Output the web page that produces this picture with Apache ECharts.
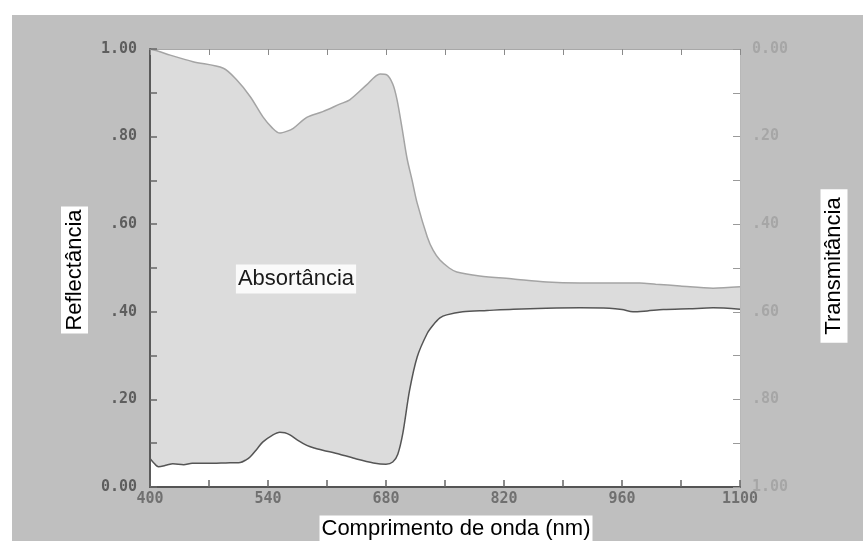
<!DOCTYPE html>
<html><head><meta charset="utf-8">
<script src="https://cdn.jsdelivr.net/npm/echarts@6/dist/echarts.min.js"></script>
<style>html,body{margin:0;padding:0;background:#fff}#c{width:863px;height:541px}</style>
</head><body><div id="c"></div>
<script>
// Upper curve: transmittance (right axis, inverted)
var wavelengthT = [400,410,424,451,487,503,519,534,545,554,562,570,586,605,625,637,657,673,681,688,693,699,705,711,717,729,736,744,755,764,791,831,871,910,950,981,1000,1029,1068,1100];
var transmittance = [0.000,0.005,0.014,0.029,0.044,0.071,0.109,0.155,0.180,0.192,0.188,0.181,0.156,0.143,0.126,0.116,0.082,0.057,0.059,0.080,0.115,0.180,0.250,0.300,0.352,0.429,0.460,0.482,0.500,0.509,0.518,0.525,0.532,0.534,0.534,0.534,0.537,0.541,0.546,0.543];
// Lower curve: reflectance (left axis)
var wavelengthR = [400,404,410,420,427,440,450,468,490,507,514,519,527,534,545,554,560,566,575,586,595,605,625,645,665,680,688,694,700,708,717,729,736,744,752,771,800,831,870,910,945,960,973,990,1009,1040,1068,1100];
var reflectance = [0.065,0.056,0.046,0.050,0.053,0.051,0.054,0.054,0.055,0.056,0.062,0.069,0.087,0.103,0.118,0.125,0.124,0.119,0.107,0.095,0.089,0.084,0.075,0.064,0.055,0.052,0.057,0.075,0.123,0.221,0.297,0.351,0.370,0.386,0.393,0.400,0.403,0.406,0.408,0.409,0.408,0.405,0.400,0.402,0.405,0.407,0.409,0.406];
var xLabels = [400,540,680,820,960,1100];

var chart = echarts.init(document.getElementById('c'), null, {renderer:'canvas'});
function pairs(xs, ys){ return xs.map(function(x,i){return [x, ys[i]];}); }
function yFmt(v){
  var k = Math.round(v*10);
  if (k % 2) return '';
  var s = (k/10).toFixed(2);
  return (k===0||k===10) ? s : s.slice(1);
}
var mono = 'DejaVu Sans Mono';
chart.setOption({
  backgroundColor:'#ffffff',
  animation:false,
  grid:{left:150, right:123, top:49, bottom:54, show:true, backgroundColor:'#ffffff', borderWidth:0},
  xAxis:[{
    type:'value', min:400, max:1100, interval:70, position:'bottom', z:10,
    axisLine:{show:true, lineStyle:{color:'#555555', width:2}},
    axisTick:{show:true, inside:true, length:7, lineStyle:{color:'#666666', width:1.5}},
    splitLine:{show:false},
    axisLabel:{margin:5, color:'#707070', fontFamily:mono, fontSize:15, fontWeight:'bold',
      formatter:function(v){ return xLabels.indexOf(Math.round(v))>=0 ? String(Math.round(v)) : ''; }}
  },{
    type:'value', min:400, max:1100, interval:70, position:'top', z:10,
    axisLine:{show:true, lineStyle:{color:'#a8a8a8', width:1}},
    axisTick:{show:true, inside:true, length:6, lineStyle:{color:'#8a8a8a', width:1}},
    splitLine:{show:false}, axisLabel:{show:false}
  }],
  yAxis:[{
    type:'value', min:0, max:1, interval:0.1, position:'left', z:10,
    axisLine:{show:true, lineStyle:{color:'#5a5a5a', width:2}},
    axisTick:{show:true, inside:true, length:7, lineStyle:{color:'#666666', width:1.5}},
    splitLine:{show:false},
    axisLabel:{margin:13, color:'#5e5e5e', fontFamily:mono, fontSize:15, fontWeight:'bold', formatter:yFmt}
  },{
    type:'value', min:0, max:1, interval:0.1, position:'right', inverse:true, z:10,
    axisLine:{show:true, lineStyle:{color:'#b8b8b8', width:1}},
    axisTick:{show:true, inside:true, length:7, lineStyle:{color:'#9a9a9a', width:1}},
    splitLine:{show:false},
    axisLabel:{margin:12, color:'#a6a6a6', fontFamily:mono, fontSize:15, fontWeight:'bold', formatter:yFmt}
  }],
  series:[{
    name:'Transmitância', type:'line', xAxisIndex:0, yAxisIndex:1,
    data:pairs(wavelengthT, transmittance), smooth:0.3, symbol:'none',
    lineStyle:{color:'#a4a4a4', width:1.5},
    areaStyle:{color:'#dcdcdc', opacity:1, origin:'end'}
  },{
    name:'Reflectância', type:'line', xAxisIndex:0, yAxisIndex:0,
    data:pairs(wavelengthR, reflectance), smooth:0.3, symbol:'none',
    lineStyle:{color:'#555555', width:1.5},
    areaStyle:{color:'#ffffff', opacity:1, origin:'start'}
  }],
  graphic:[
    {type:'rect', z:-10, silent:true, shape:{x:12, y:15, width:851, height:526}, style:{fill:'#bfbfbf'}},
    {type:'text', z:100, x:74.5, y:270, rotation:Math.PI/2,
     style:{text:'Reflectância', fontFamily:'Liberation Sans', fontSize:22, fill:'#000', align:'center', verticalAlign:'middle', backgroundColor:'#ffffff', padding:[3,3,2,3]}},
    {type:'text', z:100, x:834, y:266, rotation:Math.PI/2,
     style:{text:'Transmitância', fontFamily:'Liberation Sans', fontSize:22, fill:'#000', align:'center', verticalAlign:'middle', backgroundColor:'#ffffff', padding:[3,8,2,8]}},
    {type:'text', z:100, x:456, y:529,
     style:{text:'Comprimento de onda (nm)', fontFamily:'Liberation Sans', fontSize:22, fill:'#000', align:'center', verticalAlign:'middle', backgroundColor:'#ffffff', padding:[3,2,2,2]}},
    {type:'text', z:100, x:296, y:279,
     style:{text:'Absortância', fontFamily:'Liberation Sans', fontSize:22, fill:'#1a1a1a', align:'center', verticalAlign:'middle', backgroundColor:'#fafafa', padding:[4,2,3,2]}}
  ]
});
</script></body></html>
